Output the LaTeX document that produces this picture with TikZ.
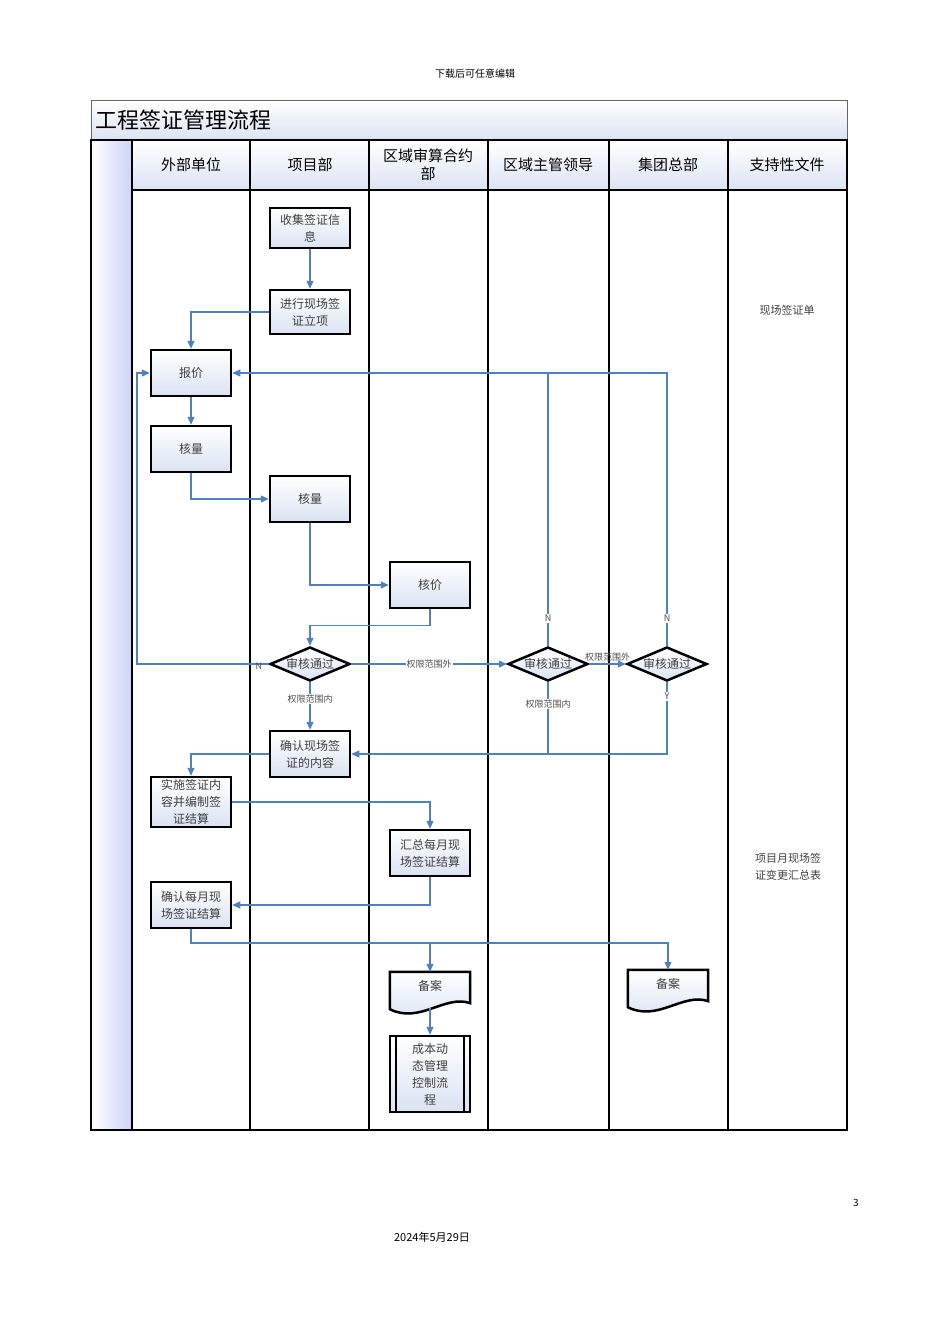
\documentclass[tikz,border=0pt]{standalone}
\usepackage{fontspec}
\setmainfont{Noto Sans CJK SC}
\usetikzlibrary{shapes.geometric,arrows.meta,calc}
\definecolor{ln}{RGB}{79,129,189}
\definecolor{lb}{RGB}{218,227,243}
\begin{document}
\begin{tikzpicture}[x=1pt,y=-1pt,
  box/.style={draw=black,line width=2.5pt,top color=white,bottom color=lb,minimum width=80pt,minimum height=46pt,inner sep=1pt,align=center,font=\fontsize{12}{17}\selectfont,text=black!75},
  dia/.style={diamond,aspect=2.4,draw=black,line width=2.5pt,top color=white,bottom color=lb,inner sep=0pt,minimum width=80pt,minimum height=34pt,font=\fontsize{12}{14}\selectfont,text=black!75},
  fl/.style={draw=ln,line width=1.2pt,-{Triangle[length=8pt,width=7pt]}},
  ln/.style={draw=ln,line width=1.2pt},
  lab/.style={font=\fontsize{9}{10}\selectfont,text=black!70,inner sep=1pt},
  hd/.style={font=\fontsize{15}{18}\selectfont,align=center}]
\useasboundingbox (0,0) rectangle (950,1344);
% frame
\shade[top color=white,bottom color=lb] (91,100) rectangle (847,140);
\shade[left color=white,right color=lb!80!blue!60] (91,140) rectangle (132,1130);
\shade[top color=white,bottom color=lb] (132,141) rectangle (847,190);
\draw[line width=1pt,black!60] (91,100) rectangle (847,140);
\node[anchor=west,font=\fontsize{22}{24}\selectfont] (title) at (92,120) {工程签证管理流程};
\draw[line width=2pt] (91,140) -- (91,1130) -- (847,1130) -- (847,140) -- cycle;
\foreach \x in {132,250,369,488,609,728} \draw[line width=2pt] (\x,140) -- (\x,1130);
\draw[line width=2pt] (132,190) -- (847,190);
\node[hd] (h1) at (191,165) {外部单位};
\node[hd] (h2) at (310,165) {项目部};
\node[hd] (h3) at (428,165) {区域审算合约\\部};
\node[hd] (h4) at (548,165) {区域主管领导};
\node[hd] (h5) at (668,165) {集团总部};
\node[hd] (h6) at (787,165) {支持性文件};
% nodes
\node[box,minimum height=40pt] (a) at (310,228) {收集签证信\\息};
\node[box,minimum height=44pt] (b) at (310,312) {进行现场签\\证立项};
\node[box] (c) at (191,373) {报价};
\node[box] (d) at (191,449) {核量};
\node[box] (e) at (310,499) {核量};
\node[box] (f) at (430,585) {核价};
\node[dia] (g1) at (310,664) {审核通过};
\node[dia] (g2) at (548,664) {审核通过};
\node[dia] (g3) at (667,664) {审核通过};
\node[box] (h) at (310,754) {确认现场签\\证的内容};
\node[box,minimum height=50pt] (i) at (191,802) {实施签证内\\容并编制签\\证结算};
\node[box] (j) at (430,853) {汇总每月现\\场签证结算};
\node[box] (k) at (191,905) {确认每月现\\场签证结算};
\node[inner sep=0pt,minimum width=80pt,minimum height=40pt] (m1) at (430,992) {};
\node[inner sep=0pt,minimum width=80pt,minimum height=40pt] (m2) at (668,990) {};
\foreach \n in {m1,m2}{
  \draw[line width=2.5pt,top color=white,bottom color=lb] (\n.north west) -- (\n.north east) -- ($(\n.south east)+(0,-9)$)
    .. controls ($(\n.south east)+(-25,-18)$) and ($(\n.south west)+(30,12)$) .. ($(\n.south west)+(0,-3)$) -- cycle;
  \node[font=\fontsize{12}{14}\selectfont,text=black!75] at ($(\n.center)+(0,-6)$) {备案};}
\node[box,minimum height=76pt,text width=44pt] (n) at (430,1074) {成本动\\态管理\\控制流\\程};
\draw[line width=2pt] ($(n.north west)+(7,0)$) -- ($(n.south west)+(7,0)$);
\draw[line width=2pt] ($(n.north east)+(-7,0)$) -- ($(n.south east)+(-7,0)$);
\node[font=\fontsize{11}{14}\selectfont,text=black!75] (s1) at (787,310) {现场签证单};
\node[font=\fontsize{11}{17}\selectfont,text=black!75,align=center] (s2) at (788,867) {项目月现场签\\证变更汇总表};
% edges
\draw[fl] (a) -- (b);
\draw[fl] (b.west) -| (c.north);
\draw[fl] (c) -- (d);
\draw[fl] (d.south) |- (e.west);
\draw[fl] (e.south) |- (f.west);
\draw[fl] (f.south) -- ++(0,16) -| (g1.north);
\draw[fl] (g1.west) -- (137,664) |- (c.west);
\node[lab] (nl) at (259,666) {N};
\draw[fl] (g1.east) -- node[lab,fill=white] {权限范围外} (g2.west);
\draw[fl] (g1.south) -- node[lab,fill=white,pos=0.35] {权限范围内} (h.north);
\draw[fl] (g2.north) -- node[lab,fill=white,pos=0.1] {N} (548,373) -- (c.east);
\draw[ln] (g3.north) -- node[lab,fill=white,pos=0.1] {N} (667,373) -- (548,373);
\draw[fl] (g2.east) -- node[lab,above=1pt] {权限范围外} (g3.west);
\draw[ln] (g2.south) -- node[lab,fill=white,pos=0.3] {权限范围内} (548,754);
\draw[fl] (g3.south) -- node[lab,fill=white,pos=0.2] {Y} (667,754) -- (h.east);
\draw[fl] (h.west) -| (i.north);
\draw[fl] (i.east) -| (j.north);
\draw[fl] (j.south) |- (k.east);
\draw[fl] (k.south) -- (191,943) -| (m2.north);
\draw[fl] (430,943) -- (m1.north);
\draw[fl] ($(m1.south)+(0,-4)$) -- (n.north);
% page text
\node[font=\fontsize{10}{12}\selectfont] (p1) at (475,74) {下载后可任意编辑};
\node[font=\fontsize{10}{12}\selectfont] (p2) at (856,1203) {3};
\node[font=\fontsize{11}{12}\selectfont] (p3) at (432,1237) {2024年5月29日};
\end{tikzpicture}
\end{document}
